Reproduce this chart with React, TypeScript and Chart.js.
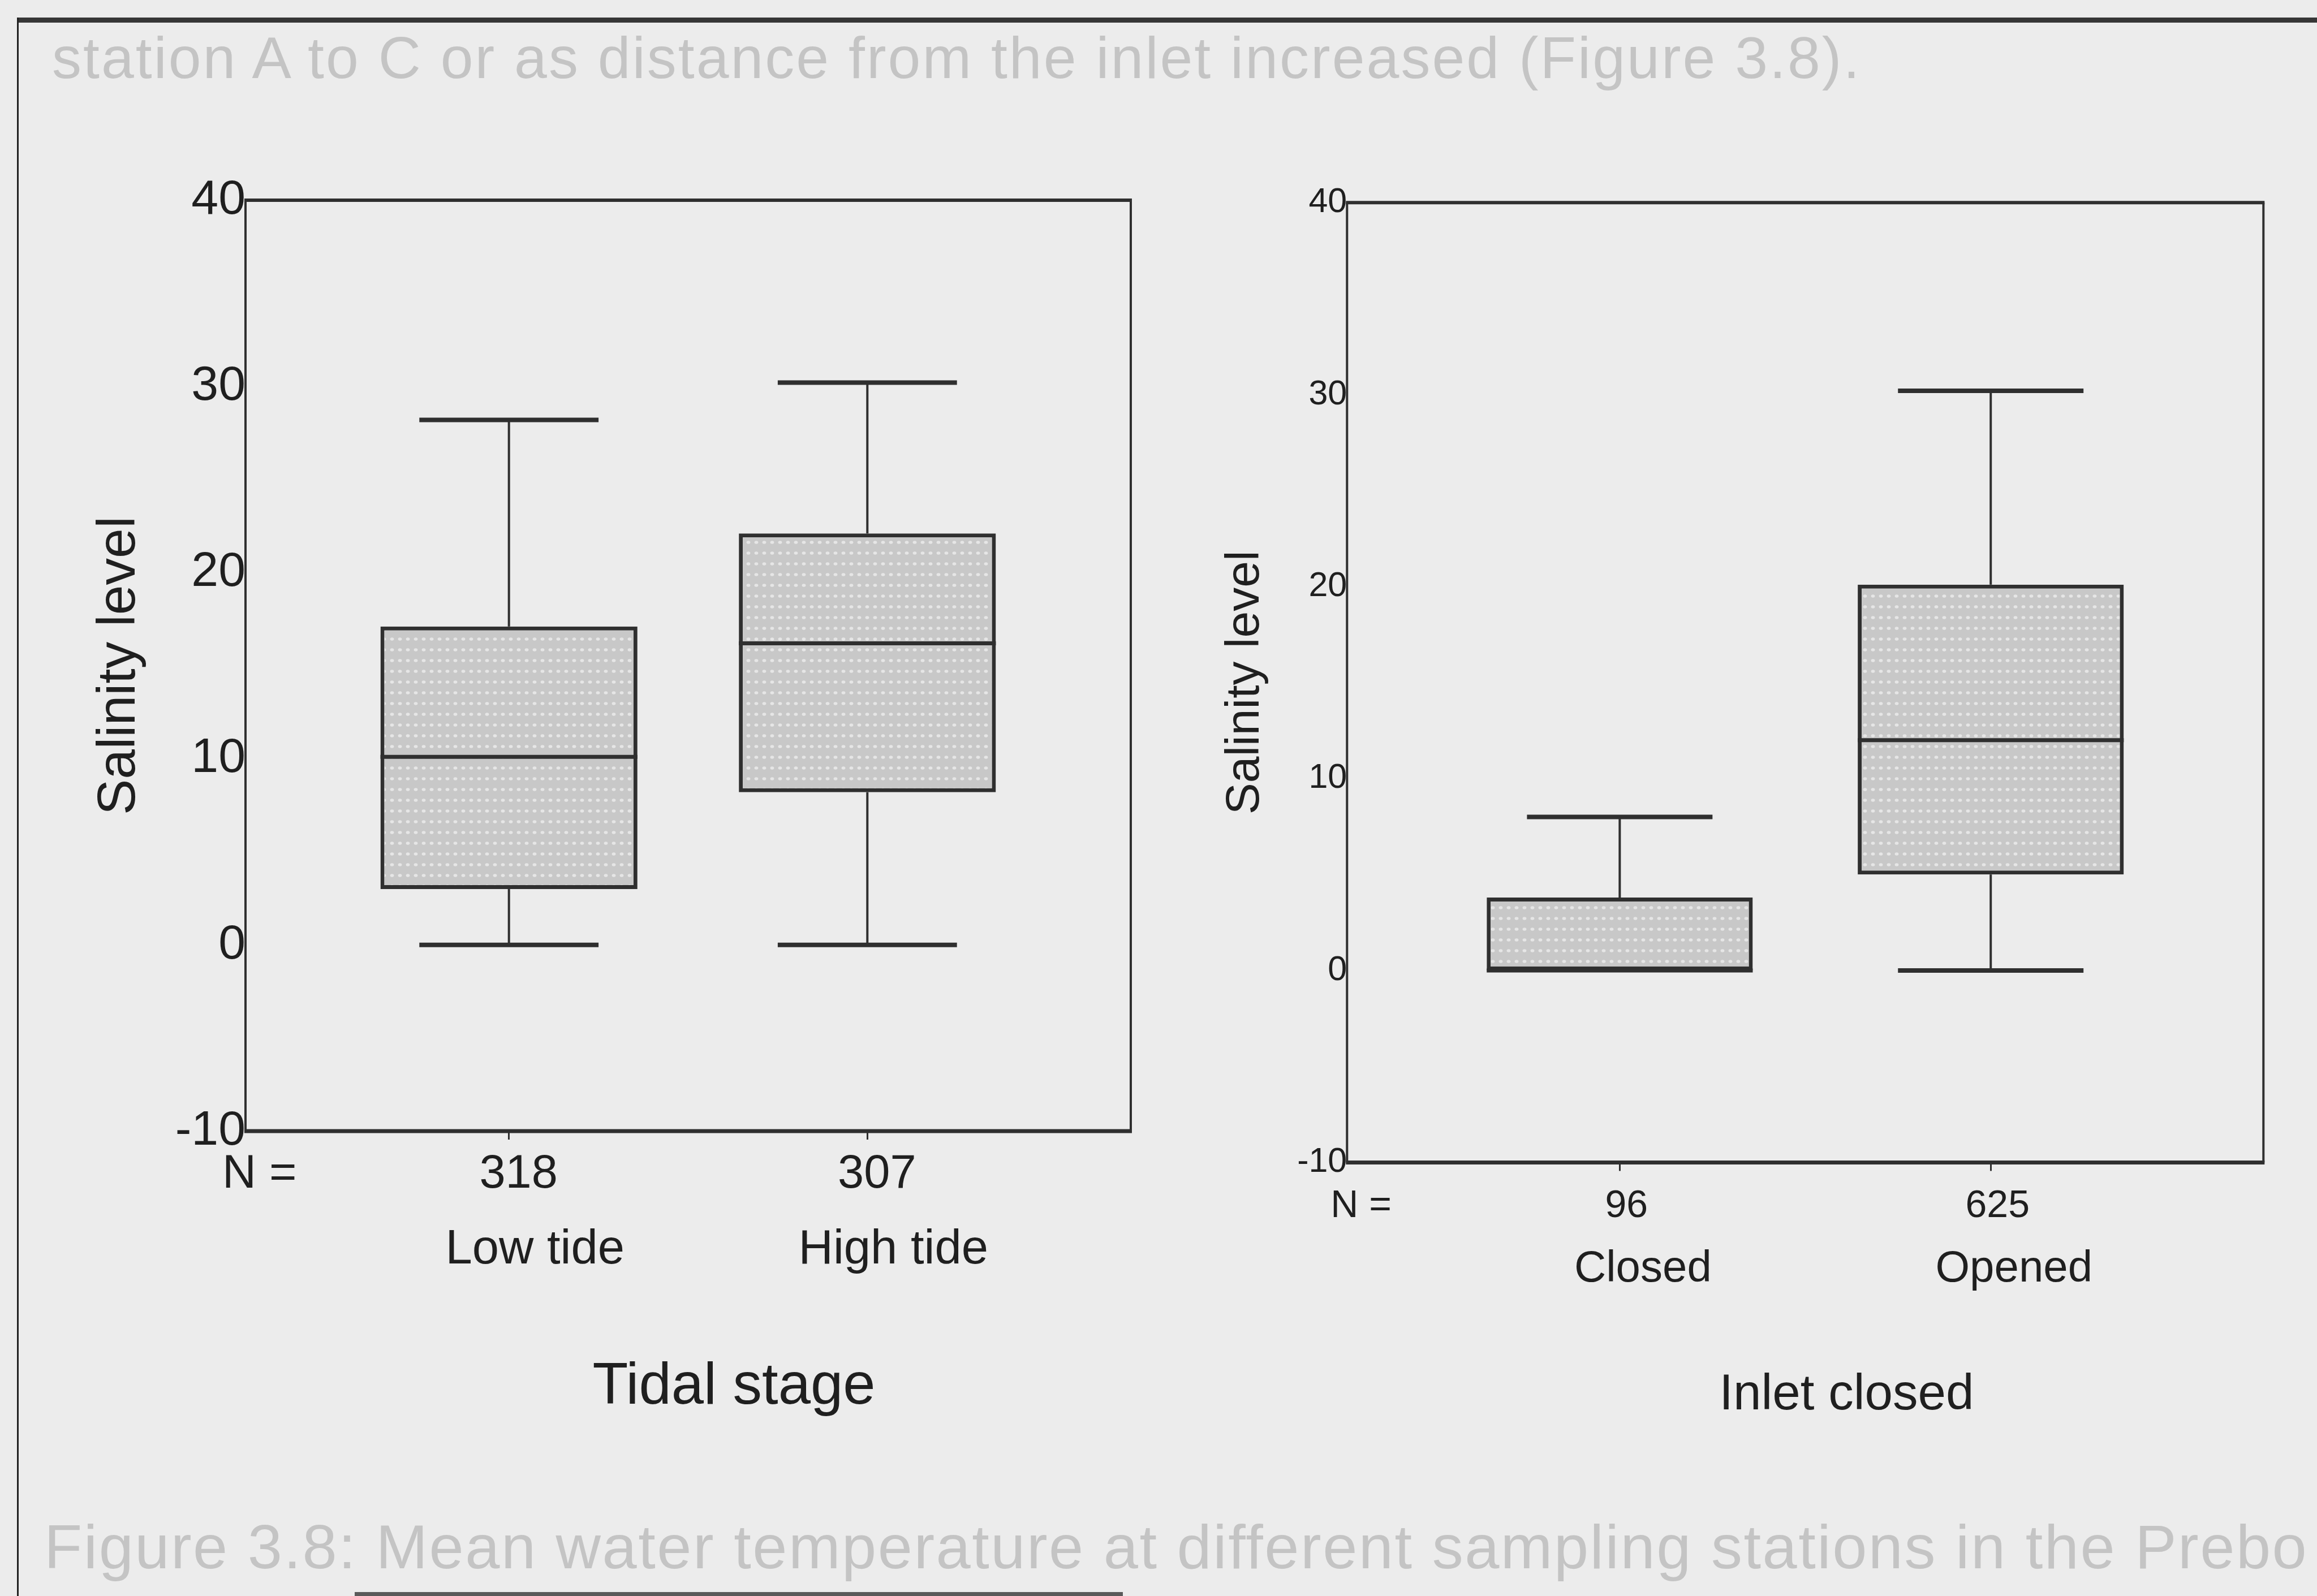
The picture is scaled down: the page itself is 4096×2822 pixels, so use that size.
import React, { useEffect, useRef } from "react";
import { Chart, registerables } from "chart.js";

Chart.register(...registerables);

const FONT = '"Liberation Sans", Arial, Helvetica, sans-serif';
const INK = "#1f1f1f";
const LINE = "#2f2f2f";
const PAPER = "#ececec";

// ---------------- data ----------------
const tideCategories = ["Low tide", "High tide"];
const tideCounts = ["318", "307"];
const tideMin = [0, 0];
const tideQ1 = [3.0, 8.2];
const tideMedian = [10.1, 16.2];
const tideQ3 = [17.1, 22.1];
const tideMax = [28.2, 30.2];

const inletCategories = ["Closed", "Opened"];
const inletCounts = ["96", "625"];
const inletMin = [0, 0];
const inletQ1 = [0, 5.0];
const inletMedian = [0, 12.0];
const inletQ3 = [3.8, 20.1];
const inletMax = [8.0, 30.2];

const salinityTicks = [-10, 0, 10, 20, 30, 40];
const Y_MIN = -10;
const Y_MAX = 40;
const X_MIN = 0.265;
const X_MAX = 2.735;
const CAP_HALF_UNITS = 0.25;

interface Panel {
  categories: string[];
  counts: string[];
  min: number[];
  q1: number[];
  median: number[];
  q3: number[];
  max: number[];
  yTitle: string;
  xTitle: string;
  canvasLeft: number;
  canvasWidth: number;
  canvasHeight: number;
  area: { left: number; top: number; right: number; bottom: number };
  yAxisWidth: number;
  xAxisHeight: number;
  yTickFont: number;
  yTitleFont: number;
  yTitlePad: number;
  catFont: number;
  catPad: number;
  catShift: number;
  nFont: number;
  nDy: number;
  nShift: number;
  nLabelDx: number;
  xTitleFont: number;
  xTitleDy: number;
  xTitleShift: number;
}

const tidePanel: Panel = {
  categories: tideCategories,
  counts: tideCounts,
  min: tideMin,
  q1: tideQ1,
  median: tideMedian,
  q3: tideQ3,
  max: tideMax,
  yTitle: "Salinity level",
  xTitle: "Tidal stage",
  canvasLeft: 0,
  canvasWidth: 2100,
  canvasHeight: 2822,
  area: { left: 434, top: 354, right: 1999, bottom: 2000 },
  yAxisWidth: 300,
  xAxisHeight: 600,
  yTickFont: 86,
  yTitleFont: 95,
  yTitlePad: 30,
  catFont: 85,
  catPad: 153,
  catShift: 46,
  nFont: 83,
  nDy: 100,
  nShift: 17,
  nLabelDx: -41,
  xTitleFont: 103,
  xTitleDy: 482,
  xTitleShift: 81,
};

const inletPanel: Panel = {
  categories: inletCategories,
  counts: inletCounts,
  min: inletMin,
  q1: inletQ1,
  median: inletMedian,
  q3: inletQ3,
  max: inletMax,
  yTitle: "Salinity level",
  xTitle: "Inlet closed",
  canvasLeft: 2100,
  canvasWidth: 1996,
  canvasHeight: 2822,
  area: { left: 281.3, top: 358.3, right: 1901.3, bottom: 2055.4 },
  yAxisWidth: 240,
  xAxisHeight: 600,
  yTickFont: 61,
  yTitleFont: 84,
  yTitlePad: 19,
  catFont: 78,
  catPad: 135,
  catShift: 41,
  nFont: 68,
  nDy: 97,
  nShift: 12,
  nLabelDx: -29,
  xTitleFont: 89,
  xTitleDy: 437,
  xTitleShift: 73,
};

function makePattern(ctx: CanvasRenderingContext2D): CanvasPattern | string {
  const c = document.createElement("canvas");
  c.width = 14;
  c.height = 19;
  const g = c.getContext("2d");
  if (!g) return "#d2d2d2";
  g.fillStyle = "#c8c8c8";
  g.fillRect(0, 0, 14, 19);
  g.fillStyle = "#e6e6e6";
  g.beginPath();
  g.ellipse(7, 9, 3.4, 2.8, 0, 0, Math.PI * 2);
  g.fill();
  return ctx.createPattern(c, "repeat") || "#d2d2d2";
}

function BoxPanel({ p }: { p: Panel }) {
  const ref = useRef<HTMLCanvasElement>(null);

  useEffect(() => {
    const canvas = ref.current;
    if (!canvas) return;
    const ctx = canvas.getContext("2d");
    if (!ctx) return;
    const pattern = makePattern(ctx);
    const labels = p.categories;
    const boxData = labels.map((_, i) => ({ x: i + 1, y: [p.q1[i], p.q3[i]] }));

    const extras = {
      id: "boxExtras",
      afterDatasetsDraw(chart: any) {
        const { ctx: c, chartArea: a, scales } = chart;
        const xs = scales.x;
        const ys = scales.y;
        const meta = chart.getDatasetMeta(0);
        c.save();
        c.strokeStyle = LINE;
        c.lineCap = "butt";
        const seg = (x1: number, y1: number, x2: number, y2: number, w: number) => {
          c.lineWidth = w;
          c.beginPath();
          c.moveTo(x1, y1);
          c.lineTo(x2, y2);
          c.stroke();
        };
        labels.forEach((_, i) => {
          const cx = xs.getPixelForValue(i + 1);
          const capHalf = xs.getPixelForValue(i + 1 + CAP_HALF_UNITS) - cx;
          const el = meta.data[i];
          const half = el.width / 2;
          const yMaxP = ys.getPixelForValue(p.max[i]);
          const yMinP = ys.getPixelForValue(p.min[i]);
          const yQ1 = ys.getPixelForValue(p.q1[i]);
          const yQ3 = ys.getPixelForValue(p.q3[i]);
          const yMed = ys.getPixelForValue(p.median[i]);
          if (p.max[i] > p.q3[i]) {
            seg(cx, yQ3, cx, yMaxP, 4);
            seg(cx - capHalf, yMaxP, cx + capHalf, yMaxP, 8);
          }
          if (p.min[i] < p.q1[i]) {
            seg(cx, yQ1, cx, yMinP, 4);
            seg(cx - capHalf, yMinP, cx + capHalf, yMinP, 8);
          }
          seg(el.x - half, yMed, el.x + half, yMed, 7);
        });
        // plot frame
        seg(a.left - 2, a.top, a.right + 2, a.top, 6);
        seg(a.left - 2, a.bottom, a.right + 2, a.bottom, 7);
        seg(a.left, a.top, a.left, a.bottom, 4);
        seg(a.right, a.top, a.right, a.bottom, 4);
        // counts row
        c.fillStyle = INK;
        c.textBaseline = "alphabetic";
        c.font = `${p.nFont}px ${FONT}`;
        c.textAlign = "left";
        c.fillText("N =", a.left + p.nLabelDx, a.bottom + p.nDy);
        c.textAlign = "center";
        p.counts.forEach((n, i) => {
          c.fillText(n, xs.getPixelForValue(i + 1) + p.nShift, a.bottom + p.nDy);
        });
        // x axis title
        c.font = `${p.xTitleFont}px ${FONT}`;
        c.fillText(p.xTitle, (a.left + a.right) / 2 + p.xTitleShift, a.bottom + p.xTitleDy);
        c.restore();
      },
    };

    const chart = new Chart(canvas, {
      type: "bar",
      data: {
        datasets: [
          {
            data: boxData as any,
            backgroundColor: pattern as any,
            borderColor: LINE,
            borderWidth: 7,
            borderSkipped: false,
            barPercentage: 0.717,
            categoryPercentage: 1,
          },
        ],
      },
      options: {
        responsive: false,
        animation: false,
        events: [],
        layout: {
          padding: {
            left: p.area.left - p.yAxisWidth,
            top: p.area.top,
            right: p.canvasWidth - p.area.right,
            bottom: p.canvasHeight - p.area.bottom - p.xAxisHeight,
          },
        },
        plugins: {
          legend: { display: false },
          tooltip: { enabled: false },
          title: { display: false },
        },
        scales: {
          x: {
            type: "linear",
            min: X_MIN,
            max: X_MAX,
            offset: false,
            afterBuildTicks: (s: any) => {
              s.ticks = labels.map((_, i) => ({ value: i + 1 }));
            },
            afterFit: (s: any) => {
              s.height = p.xAxisHeight;
            },
            grid: {
              display: true,
              drawOnChartArea: false,
              drawTicks: true,
              tickLength: 15,
              color: LINE,
              lineWidth: 3,
              offset: false,
            },
            border: { display: false },
            ticks: {
              autoSkip: false,
              maxRotation: 0,
              minRotation: 0,
              padding: p.catPad,
              labelOffset: p.catShift,
              color: INK,
              font: { family: FONT, size: p.catFont, lineHeight: 1 },
              callback: (v: any) => labels[Math.round(Number(v)) - 1] ?? "",
            },
          },
          y: {
            type: "linear",
            min: Y_MIN,
            max: Y_MAX,
            afterBuildTicks: (s: any) => {
              s.ticks = salinityTicks.map((v) => ({ value: v }));
            },
            afterFit: (s: any) => {
              s.width = p.yAxisWidth;
            },
            grid: { display: false, drawTicks: false },
            border: { display: false },
            ticks: {
              padding: 0,
              color: INK,
              font: { family: FONT, size: p.yTickFont, lineHeight: 1 },
            },
            title: {
              display: true,
              text: p.yTitle,
              color: INK,
              font: { family: FONT, size: p.yTitleFont, lineHeight: 1 },
              padding: { top: p.yTitlePad, bottom: 0 },
            },
          },
        },
      } as any,
      plugins: [extras],
    });
    return () => chart.destroy();
  }, [p]);

  return (
    <canvas
      ref={ref}
      width={p.canvasWidth}
      height={p.canvasHeight}
      style={{
        position: "absolute",
        left: p.canvasLeft,
        top: 0,
        width: p.canvasWidth,
        height: p.canvasHeight,
      }}
    />
  );
}

const ghostStyle: React.CSSProperties = {
  position: "absolute",
  whiteSpace: "nowrap",
  fontFamily: FONT,
  color: "#c4c4c4",
  lineHeight: 1,
};

export default function App() {
  return (
    <div
      style={{
        position: "absolute",
        left: 0,
        top: 0,
        width: 4096,
        height: 2822,
        background: PAPER,
        overflow: "hidden",
      }}
    >
      <div style={{ ...ghostStyle, left: 92, top: 50, fontSize: 104, letterSpacing: 3 }}>
        station A to C or as distance from the inlet increased (Figure 3.8).
      </div>
      <div style={{ ...ghostStyle, left: 78, top: 2680, fontSize: 110, letterSpacing: 2.5 }}>
        Figure 3.8: Mean water temperature at different sampling stations in the Prebo
      </div>
      <div style={{ position: "absolute", left: 31, top: 31, width: 4065, height: 9, background: "#363636" }} />
      <div style={{ position: "absolute", left: 30, top: 31, width: 3, height: 2791, background: "#222" }} />
      <div style={{ position: "absolute", left: 627, top: 2815, width: 1358, height: 7, background: "#5a5a5a" }} />
      <BoxPanel p={tidePanel} />
      <BoxPanel p={inletPanel} />
    </div>
  );
}
